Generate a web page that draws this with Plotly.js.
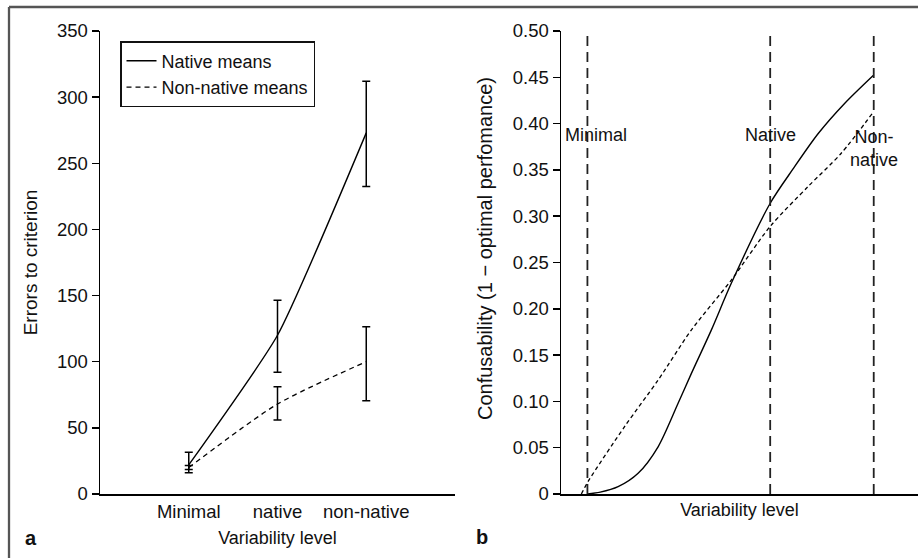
<!DOCTYPE html>
<html>
<head>
<meta charset="utf-8">
<script src="https://cdn.plot.ly/plotly-3.0.1.min.js"></script>
<style>html,body{margin:0;padding:0;background:#fff;}#chart{width:918px;height:558px;}</style>
</head>
<body>
<div id="chart"></div>
<script>
// ---- Panel a data ----
var categories = ["Minimal", "native", "non-native"];
var nativeMeans = [22, 120, 273];
var nativeErrPlus = [9.5, 26.5, 39];
var nativeErrMinus = [3.5, 28, 40.5];
var nonNativeMeans = [20, 68, 100];
var nonNativeErrPlus = [1.5, 13, 26.5];
var nonNativeErrMinus = [4, 12, 29.5];

// ---- Panel b data ----
var solidX = [0.074, 0.110, 0.160, 0.216, 0.272, 0.328, 0.365, 0.421, 0.477, 0.586, 0.650, 0.720, 0.795, 0.876];
var solidY = [0.000, 0.002, 0.0079, 0.0224, 0.051, 0.098, 0.130, 0.177, 0.2275, 0.314, 0.351, 0.389, 0.422, 0.4525];
var dashedX = [0.057, 0.0756, 0.178, 0.272, 0.365, 0.477, 0.586, 0.692, 0.785, 0.876];
var dashedY = [0.000, 0.0133, 0.0727, 0.123, 0.177, 0.231, 0.289, 0.332, 0.368, 0.413];
var levelNames = ["Minimal", "Native", "Non-<br>native"];
var levelPositions = [0.074, 0.586, 0.876];
var levelLineTop = 0.496;
var yTicksB = [0, 0.05, 0.10, 0.15, 0.20, 0.25, 0.30, 0.35, 0.40, 0.45, 0.50];
var yTickTextB = ["0", "0.05", "0.10", "0.15", "0.20", "0.25", "0.30", "0.35", "0.40", "0.45", "0.50"];

var FONT = "Liberation Sans, Arial, Helvetica, sans-serif";
var FS = 18;
var TFS = 18.5;
var W = 918, H = 558;
function px(x){ return x / W; }
function py(y){ return 1 - y / H; }

var traces = [
  {
    x: categories, y: nativeMeans, type: "scatter", mode: "lines",
    name: "Native means", xaxis: "x", yaxis: "y",
    line: {color: "#000", width: 1.4, shape: "spline", smoothing: 0.5},
    error_y: {type: "data", symmetric: false, array: nativeErrPlus, arrayminus: nativeErrMinus,
              color: "#000", thickness: 1.5, width: 4}
  },
  {
    x: categories, y: nonNativeMeans, type: "scatter", mode: "lines",
    name: "Non-native means", xaxis: "x", yaxis: "y",
    line: {color: "#000", width: 1.3, dash: "5px,4px", shape: "spline", smoothing: 0.7},
    error_y: {type: "data", symmetric: false, array: nonNativeErrPlus, arrayminus: nonNativeErrMinus,
              color: "#000", thickness: 1.5, width: 4}
  },
  {
    x: solidX, y: solidY, type: "scatter", mode: "lines", showlegend: false,
    xaxis: "x2", yaxis: "y2",
    line: {color: "#000", width: 1.4, shape: "spline", smoothing: 0.8}
  },
  {
    x: dashedX, y: dashedY, type: "scatter", mode: "lines", showlegend: false,
    xaxis: "x2", yaxis: "y2",
    line: {color: "#000", width: 1.3, dash: "4px,3px", shape: "spline", smoothing: 0.8}
  }
];

var shapes = [
  {type: "line", xref: "paper", yref: "paper", x0: px(9), x1: 1, y0: py(7), y1: py(7),
   line: {color: "#555", width: 2.3}},
  {type: "line", xref: "paper", yref: "paper", x0: px(9), x1: px(9), y0: 0, y1: py(7),
   line: {color: "#555", width: 2.3}}
];
levelPositions.forEach(function(v){
  shapes.push({type: "line", xref: "x2", yref: "y2", x0: v, x1: v, y0: 0, y1: levelLineTop,
    line: {color: "#222", width: 1.8, dash: "10px,6px"}});
});

var labelX = [0.098, 0.586, 0.877];
var labelY = [0.388, 0.388, 0.373];
var annotations = levelNames.map(function(t, i){
  return {text: t, x: labelX[i], y: labelY[i], xref: "x2", yref: "y2",
          showarrow: false, xanchor: "center", yanchor: "middle",
          font: {family: FONT, size: FS, color: "#111"}};
});
annotations.push({text: "<b>a</b>", xref: "paper", yref: "paper", x: px(31), y: py(538),
  showarrow: false, xanchor: "center", yanchor: "middle", font: {family: FONT, size: 20, color: "#111"}});
annotations.push({text: "<b>b</b>", xref: "paper", yref: "paper", x: px(482), y: py(537),
  showarrow: false, xanchor: "center", yanchor: "middle", font: {family: FONT, size: 20, color: "#111"}});
// y-axis title of panel b (placed as in the reference, slightly above the axis centre)
annotations.push({text: "Confusability (1 \u2212 optimal perfomance)", xref: "paper", yref: "paper",
  x: px(485), y: py(249), textangle: -90, showarrow: false, xanchor: "center", yanchor: "middle",
  font: {family: FONT, size: 20, color: "#111"}});

var axisCommon = {
  showgrid: false, zeroline: false, showline: true, linecolor: "#000", linewidth: 1.5,
  tickfont: {family: FONT, size: TFS, color: "#111"}, automargin: false
};

var layout = {
  width: W, height: H,
  margin: {l: 0, r: 0, t: 0, b: 0},
  paper_bgcolor: "#fff", plot_bgcolor: "#fff",
  font: {family: FONT, size: FS, color: "#111"},
  showlegend: true,
  legend: {x: px(120), y: py(41), xanchor: "left", yanchor: "top",
           bordercolor: "#111", borderwidth: 1.5, bgcolor: "#fff",
           font: {family: FONT, size: FS, color: "#111"}, itemwidth: 30, tracegroupgap: 0},
  xaxis: Object.assign({}, axisCommon, {
    domain: [px(100), px(455)], anchor: "y", type: "category", range: [-1, 3],
    ticks: "", ticklabelstandoff: 0,
    title: {text: "Variability level", standoff: 10, font: {family: FONT, size: FS, color: "#111"}}
  }),
  yaxis: Object.assign({}, axisCommon, {
    domain: [py(494), py(31)], anchor: "x", range: [0, 350], dtick: 50, tick0: 0,
    ticks: "outside", ticklen: 7, tickwidth: 1.5, tickcolor: "#000",
    title: {text: "Errors to criterion", standoff: 14, font: {family: FONT, size: 19, color: "#111"}}
  }),
  xaxis2: Object.assign({}, axisCommon, {
    domain: [px(561), 1], anchor: "y2", range: [0, 1],
    ticks: "", showticklabels: false,
    title: {text: "Variability level", standoff: 9, font: {family: FONT, size: FS, color: "#111"}}
  }),
  yaxis2: Object.assign({}, axisCommon, {
    domain: [py(494), py(31)], anchor: "x2", range: [0, 0.5],
    tickvals: yTicksB, ticktext: yTickTextB,
    ticks: "outside", ticklen: 7, tickwidth: 1.5, tickcolor: "#000"
  }),
  shapes: shapes,
  annotations: annotations
};

Plotly.newPlot("chart", traces, layout, {displayModeBar: false, staticPlot: true});
</script>
</body>
</html>
